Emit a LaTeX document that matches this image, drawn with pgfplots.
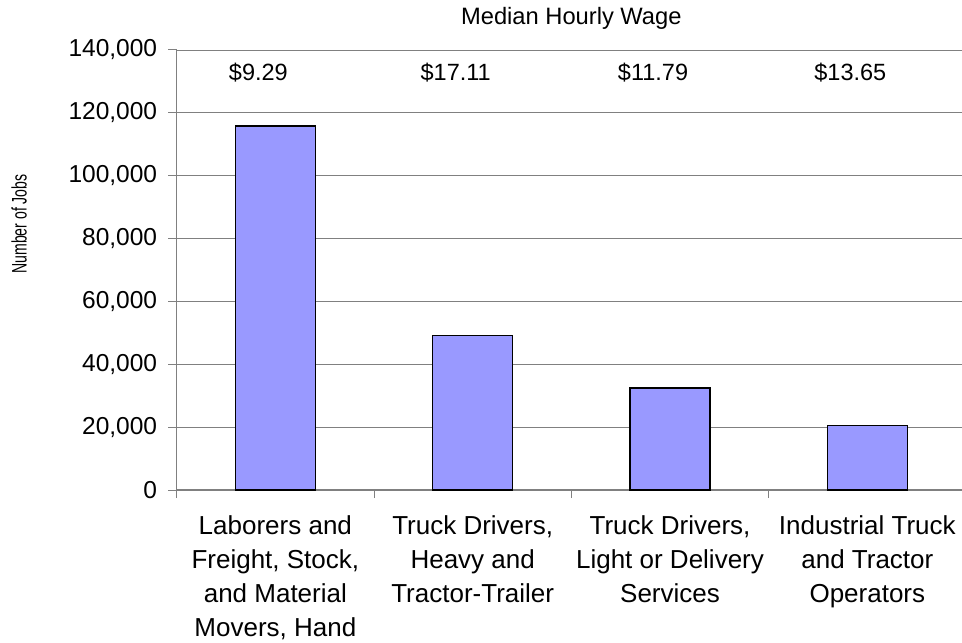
\documentclass[border=0pt]{standalone}
\usepackage{pgfplots}
\pgfplotsset{compat=1.18}
\usepackage{graphicx}
\usepackage{fontspec}
\setmainfont{Liberation Sans}
\definecolor{barblue}{HTML}{9999FF}
\definecolor{gridgray}{HTML}{808080}
\begin{document}
\begin{tikzpicture}
\begin{axis}[
  at={(0,0)}, anchor=south west,
  width=789.3pt, height=440pt, scale only axis,
  clip=false,
  xmin=-0.5, xmax=3.5, ymin=0, ymax=140000,
  ybar, bar width=80pt,
  axis x line*=bottom, axis y line*=left,
  axis line style={gridgray, line width=1.2pt, -},
  ytick={0,20000,40000,60000,80000,100000,120000,140000},
  ymajorgrids, grid style={gridgray, line width=0.9pt},
  xtick={0,1,2,3},
  xticklabels={{Laborers and\\Freight, Stock,\\and Material\\Movers, Hand},{Truck Drivers,\\Heavy and\\Tractor-Trailer},{Truck Drivers,\\Light or Delivery\\Services},{Industrial Truck\\and Tractor\\Operators}},
  minor xtick={-0.5,0.5,1.5,2.5,3.5},
  tick align=outside,
  major tick length=8.4pt, minor tick length=8pt,
  major x tick style={draw=none},
  minor x tick style={gridgray, line width=1pt},
  ytick style={gridgray, line width=1pt},
  scaled y ticks=false,
  /pgf/number format/fixed,
  /pgf/number format/precision=0,
  /pgf/number format/1000 sep={,},
  /pgf/number format/assume math mode=true,
  yticklabel style={font=\fontsize{24.5}{28}\selectfont, inner sep=0pt, xshift=-11pt},
  xticklabel style={align=center, font=\fontsize{26}{33.9}\selectfont, inner sep=0pt, yshift=-17pt},
]
\addplot[fill=barblue, draw=black, line width=1.5pt] coordinates {(0,115800) (1,49100) (2,32450) (3,20450)};
\node[anchor=base, font=\fontsize{23.5}{27}\selectfont, xshift=-17pt] at (axis cs:0,130230) {\$9.29};
\node[anchor=base, font=\fontsize{23.5}{27}\selectfont, xshift=-17pt] at (axis cs:1,130230) {\$17.11};
\node[anchor=base, font=\fontsize{23.5}{27}\selectfont, xshift=-17pt] at (axis cs:2,130230) {\$11.79};
\node[anchor=base, font=\fontsize{23.5}{27}\selectfont, xshift=-17pt] at (axis cs:3,130230) {\$13.65};
\node[anchor=base, font=\fontsize{23.7}{27}\selectfont, yshift=25pt] at (axis cs:1.5,140000) {Median Hourly Wage};
\node[rotate=90, inner sep=0pt, font=\fontsize{21}{25}\selectfont] at ([xshift=-157.7pt]axis cs:-0.5,84640) {\scalebox{0.67}[1]{Number of Jobs}};
\end{axis}
\pgfresetboundingbox
\path[use as bounding box] (-176.7pt,-153pt) rectangle (785.3pt,490pt);
\end{tikzpicture}
\end{document}
